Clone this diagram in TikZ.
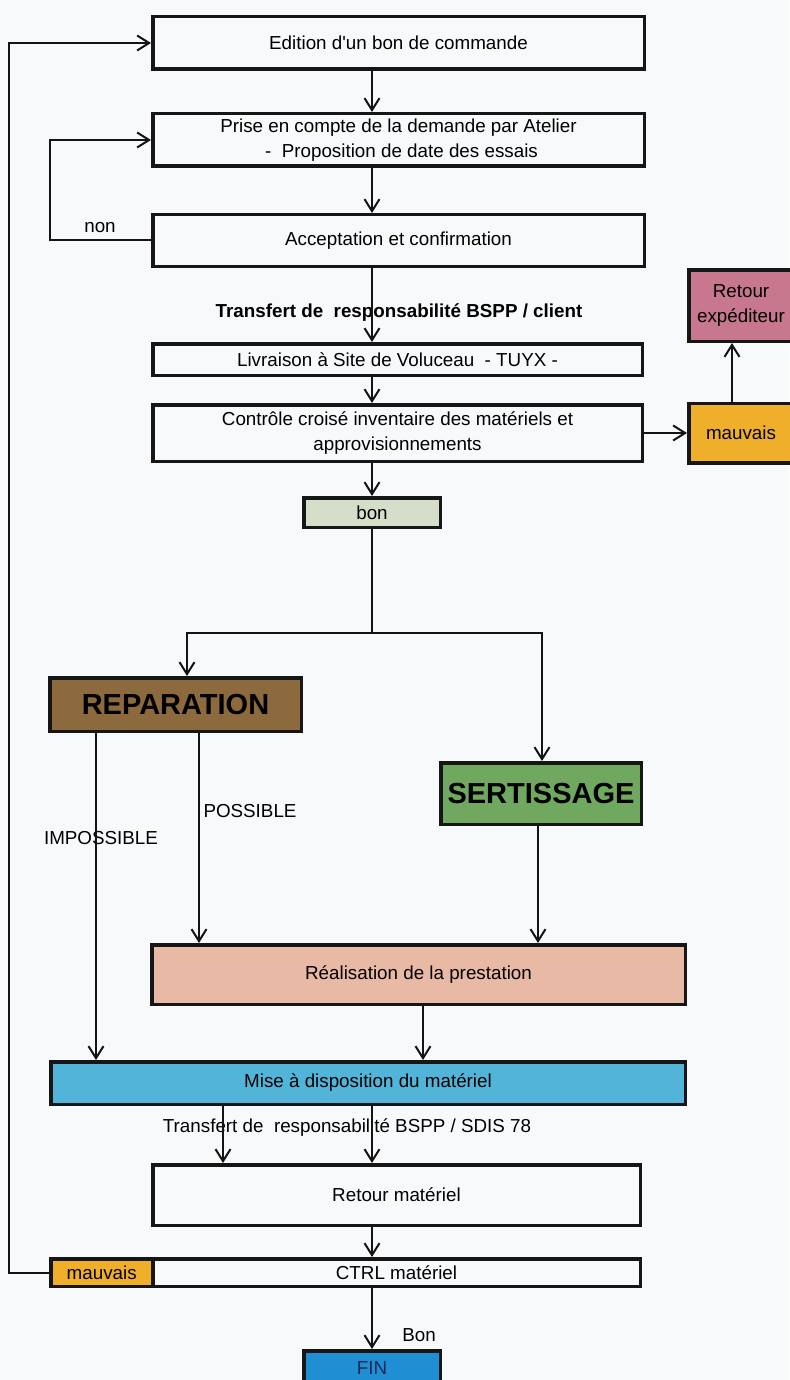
\documentclass[tikz,border=0pt]{standalone}
\usepackage{fontspec}
\setmainfont{Liberation Sans}
\usetikzlibrary{arrows.meta}

\definecolor{pagebg}{HTML}{F8F9FB}
\definecolor{framecol}{HTML}{161616}
\definecolor{brownfill}{HTML}{8C6A3E}
\definecolor{greenfill}{HTML}{6FA85E}
\definecolor{salmonfill}{HTML}{E8B9A5}
\definecolor{misefill}{HTML}{52B4D8}
\definecolor{badfill}{HTML}{EFAF2A}
\definecolor{mauvefill}{HTML}{C8788E}
\definecolor{bonfill}{HTML}{D5DEC9}
\definecolor{finfill}{HTML}{1F8ED2}
\definecolor{finink}{HTML}{1A2A55}

\begin{document}
\begin{tikzpicture}[x=1pt,y=-1pt,
  box/.style={draw=framecol, line width=3.5pt, rectangle, inner sep=0pt,
              align=center, font=\fontsize{18.8}{24.5}\selectfont},
  conn/.style={line width=2pt, draw=black!92},
  arr/.style={conn, -{Straight Barb[length=12pt,width=15pt]}},
  lbl/.style={inner sep=0pt, font=\fontsize{18.8}{24}\selectfont},
  big/.style={font=\fontsize{29}{34}\selectfont\bfseries}]

\useasboundingbox[fill=pagebg] (0,0) rectangle (789,1380);

% x positions of the vertical connectors
\coordinate (spine) at (372,0);
\coordinate (loopx) at (9,0);
\coordinate (upx)   at (732,0);
\coordinate (repx)  at (187,0);
\coordinate (sertx) at (542,0);
\coordinate (impx)  at (96,0);
\coordinate (posx)  at (199,0);
\coordinate (sertdx) at (538,0);
\coordinate (realx) at (423,0);
\coordinate (leftx) at (223,0);
\coordinate (split) at (372,633);

% process boxes
\node[box, minimum width=491.5, minimum height=52.5] (b1) at (398.5,43) {Edition d\textquotesingle un bon de commande};
\node[box, minimum width=491.5, minimum height=52.5] (b2) at (398.5,140)
  {Prise en compte de la demande par Atelier\\\hspace*{6pt}-\ \ Proposition de date des essais};
\node[box, minimum width=491.5, minimum height=51.5] (b3) at (398.5,240.5) {Acceptation et confirmation};
\node[box, minimum width=489.5, minimum height=31.5] (liv) at (397.5,359.5) {Livraison à Site de Voluceau\ \ - TUYX -};
\node[box, minimum width=489.5, minimum height=56.5] (ctrl) at (397.5,433)
  {Contrôle croisé inventaire des matériels et\\approvisionnements};
\node[box, fill=badfill, minimum width=104.5, minimum height=59.5] (bad1) at (741,433) {mauvais};
\node[box, fill=mauvefill, minimum width=104.5, minimum height=71.5] (retexp) at (741,305.5) {Retour\\expéditeur};
\node[box, fill=bonfill, minimum width=136.5, minimum height=29.5] (bon) at (372,512.5) {bon};
\node[box, big, fill=brownfill, minimum width=251.5, minimum height=53.5] (rep) at (175.5,704.5) {REPARATION};
\node[box, big, fill=greenfill, minimum width=200.5, minimum height=61.5] (sert) at (541,793.5) {SERTISSAGE};
\node[box, fill=salmonfill, minimum width=533.5, minimum height=59.5] (real) at (418.5,974.5) {Réalisation de la prestation};
\node[box, fill=misefill, minimum width=634.5, minimum height=42.5] (mise) at (368,1083) {Mise à disposition du matériel};
\node[box, minimum width=487.5, minimum height=60.5] (retmat) at (396.5,1195) {Retour matériel};
\node[box, minimum width=487.5, minimum height=27.5] (ctrlm) at (396.5,1272.5) {CTRL matériel};
\node[box, fill=badfill, minimum width=102, minimum height=27.5] (bad2) at (101.75,1272.5) {mauvais};
\node[box, fill=finfill, text=finink, minimum width=136.5, minimum height=34.5] (fin) at (372,1368) {FIN};

% free labels
\node[lbl, font=\fontsize{18.8}{24}\selectfont\bfseries] (t1) at (399,313) {Transfert de\ \ responsabilité BSPP / client};
\node[lbl] (t2) at (347,1128) {Transfert de\ \ responsabilité BSPP / SDIS 78};
\node[lbl] (non) at (100,228) {non};
\node[lbl] (pos) at (250,811) {POSSIBLE};
\node[lbl] (imp) at (101,838) {IMPOSSIBLE};
\node[lbl] (bonlbl) at (419,1335) {Bon};

% main flow
\draw[arr] (b1.south -| spine) -- (b2.north -| spine);
\draw[arr] (b2.south -| spine) -- (b3.north -| spine);
\draw[arr] (b3.south -| spine) -- (liv.north -| spine);
\draw[arr] (liv.south -| spine) -- (ctrl.north -| spine);
\draw[arr] (ctrl.south -| spine) -- (bon.north);
\draw[arr] (ctrl.east) -- (bad1.west);
\draw[arr] (bad1.north -| upx) -- (retexp.south -| upx);

% refusal loop
\draw[arr] (b3.west) -- ++(-101,0) |- (b2.west);

% branching after the check
\draw[conn] (bon.south) -- (split);
\draw[arr] (split) -| (rep.north -| repx);
\draw[arr] (split) -| (sert.north -| sertx);
\draw[arr] (rep.south -| impx) -- (mise.north -| impx);
\draw[arr] (rep.south -| posx) -- (real.north -| posx);
\draw[arr] (sert.south -| sertdx) -- (real.north -| sertdx);
\draw[arr] (real.south -| realx) -- (mise.north -| realx);

% return of the equipment
\draw[arr] (mise.south -| leftx) -- (retmat.north -| leftx);
\draw[arr] (mise.south -| spine) -- (retmat.north -| spine);
\draw[arr] (retmat.south -| spine) -- (ctrlm.north -| spine);
\draw[arr] (ctrlm.south -| spine) -- (fin.north);

% rejected control goes back to the order
\draw[arr] (bad2.west) -- (bad2.west -| loopx) |- (b1.west);
\end{tikzpicture}
\end{document}
